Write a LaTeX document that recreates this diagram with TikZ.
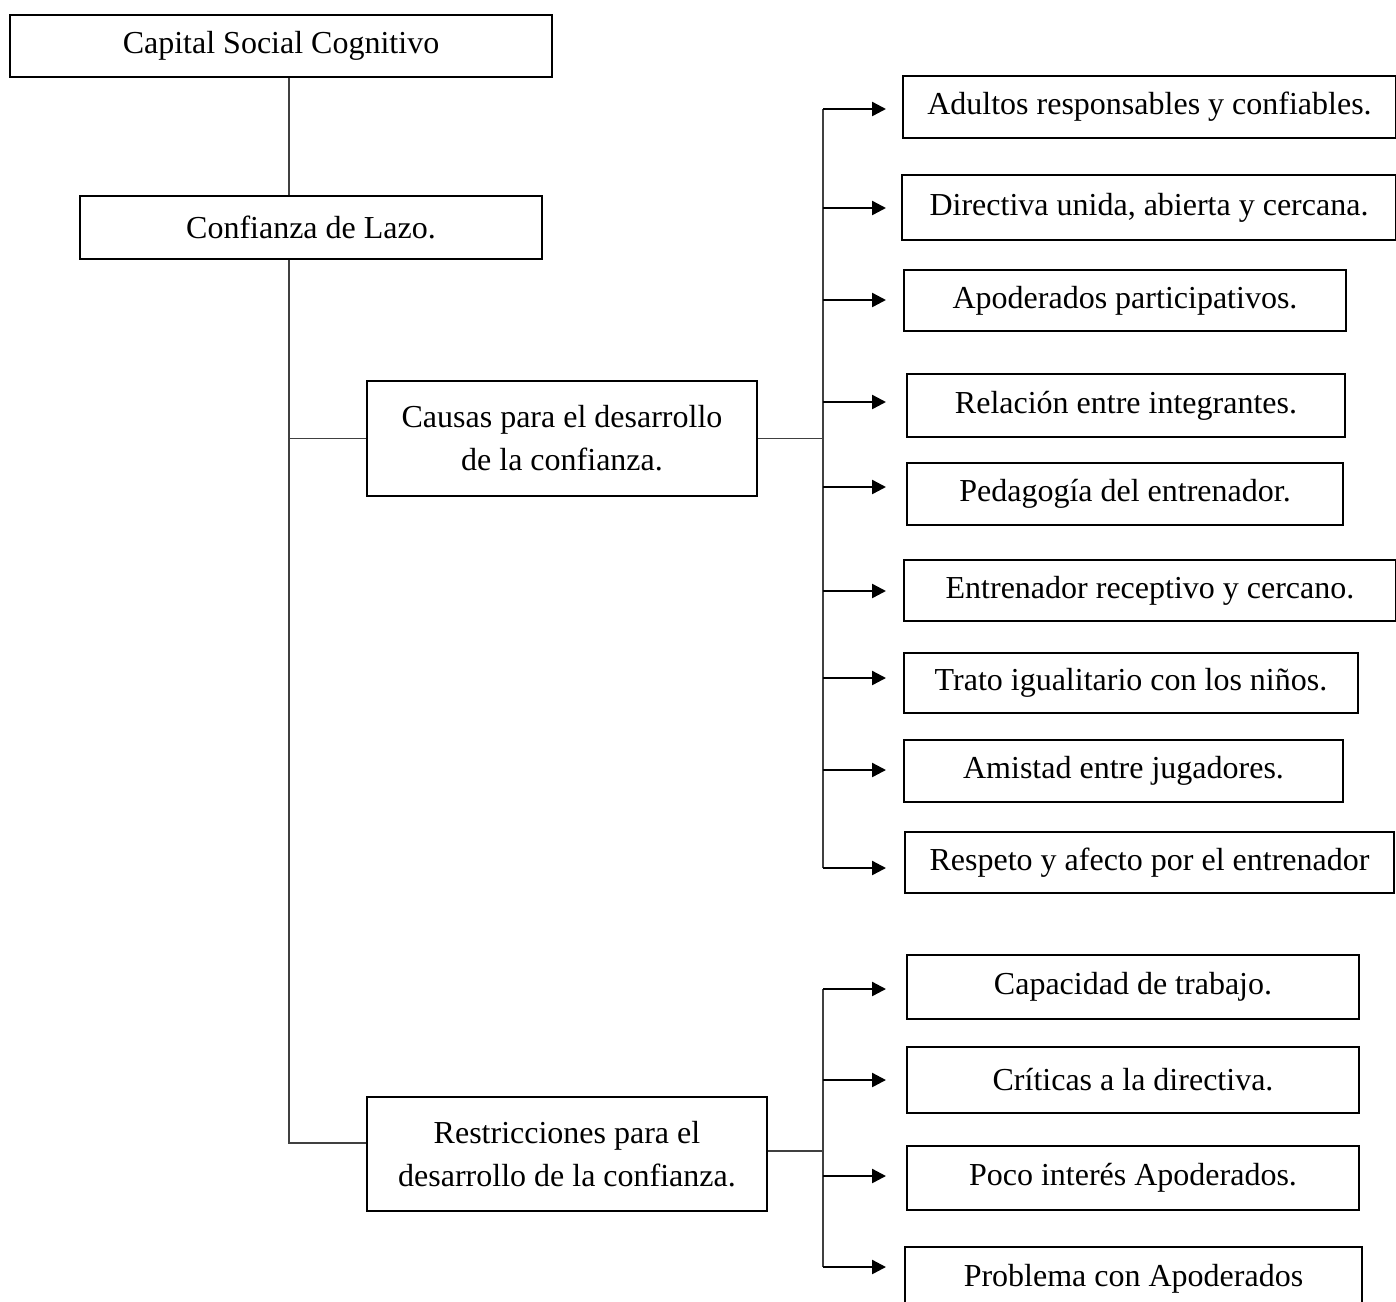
\documentclass[tikz,border=0pt]{standalone}
\usepackage{fontspec}
\setmainfont{Liberation Serif}
\usetikzlibrary{arrows.meta}
\tikzset{
  box/.style={draw=black, line width=2pt, fill=white, inner sep=0pt, align=center,
              font=\fontsize{32}{43}\selectfont},
  link/.style={draw=black!75, line width=1.3pt},
  arr/.style={draw=black, line width=2.4pt, -{Triangle[length=14pt,width=14pt]}}
}
% box by corners: name, x1, y1, x2, y2, text
\newcommand\cbox[6]{%
  \node[box, minimum width={(#4-#2)*1pt}, minimum height={(#5-#3)*1pt}]
    (#1) at ({(#2+#4)/2},{(#3+#5)/2}) {#6};}
\begin{document}
\begin{tikzpicture}[x=1pt,y=-1pt]
\useasboundingbox (0,0) rectangle (1396,1301);

% guide coordinates for the trunk, the two buses and the arrow tips
\coordinate (trunk) at (289,0);
\coordinate (bus) at (823,0);
\coordinate (tip) at (886,0);

\cbox{csc}{10}{15}{552}{77}{Capital Social Cognitivo}
\cbox{cdl}{80}{196}{542}{259}{Confianza de Lazo.}
\cbox{cau}{367}{381}{757}{496}{Causas para el desarrollo\\de la confianza.}
\cbox{res}{367}{1097}{767}{1211}{Restricciones para el\\desarrollo de la confianza.}

% causes
\cbox{a1}{903}{76}{1396}{138}{Adultos responsables y confiables.}
\cbox{a2}{902}{175}{1396}{240}{Directiva unida, abierta y cercana.}
\cbox{a3}{904}{270}{1346}{331}{Apoderados participativos.}
\cbox{a4}{907}{374}{1345}{437}{Relación entre integrantes.}
\cbox{a5}{907}{463}{1343}{525}{Pedagogía del entrenador.}
\cbox{a6}{904}{560}{1396}{621}{Entrenador receptivo y cercano.}
\cbox{a7}{904}{653}{1358}{713}{Trato igualitario con los niños.}
\cbox{a8}{904}{740}{1343}{802}{Amistad entre jugadores.}
\cbox{a9}{905}{832}{1394}{893}{Respeto y afecto por el entrenador}

% restrictions
\cbox{r1}{907}{955}{1359}{1019}{Capacidad de trabajo.}
\cbox{r2}{907}{1047}{1359}{1113}{Críticas a la directiva.}
\cbox{r3}{907}{1146}{1359}{1210}{Poco interés Apoderados.}
\cbox{r4}{905}{1247}{1362}{1310}{Problema con Apoderados}

% trunk
\draw[link] (csc.south -| trunk) -- (cdl.north -| trunk);
\draw[link] (cdl.south -| trunk) |- (res.west |- 0,1143);
\draw[link] (trunk |- cau.west) -- (cau.west);

% causes bus
\draw[link] (cau.east) -- (bus |- cau.east);
\draw[link] (bus |- 0,109) -- (bus |- 0,868);
\foreach \n/\y in {a1/109,a2/208,a3/300,a4/402,a5/487,a6/591,a7/678,a8/770,a9/868}
  \draw[arr] (bus |- 0,\y) -- (tip |- 0,\y);

% restrictions bus
\draw[link] (res.east |- 0,1151) -- (bus |- 0,1151);
\draw[link] (bus |- 0,989) -- (bus |- 0,1267);
\foreach \n/\y in {r1/989,r2/1080,r3/1176,r4/1267}
  \draw[arr] (bus |- 0,\y) -- (tip |- 0,\y);
\end{tikzpicture}
\end{document}
